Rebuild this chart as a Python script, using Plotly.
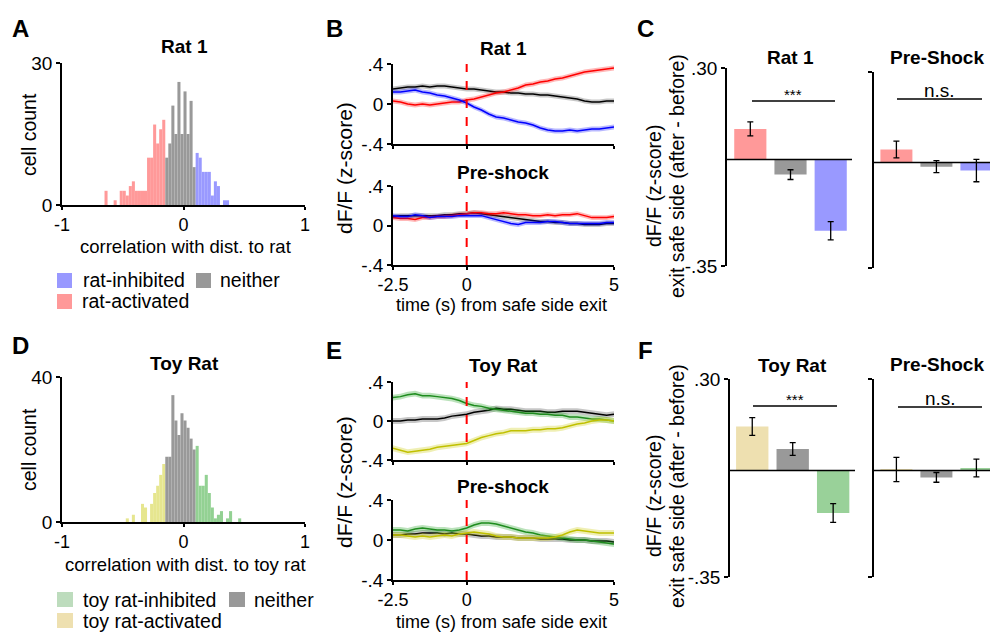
import plotly.graph_objects as go

W, H = 990, 633
def px(x): return x / W
def py(y): return 1 - y / H

FONT = "Liberation Sans, Arial, sans-serif"

# ---------------- DATA ----------------
BIN_W = 0.025
# Panel A: Rat 1 histogram (counts per bin, bins of width BIN_W starting at *_start)
A_act_start = -0.65
A_act_counts = [3, 0, 0, 1, 0, 3, 3, 2, 4, 5, 3, 3, 3, 3, 10, 10, 17, 13, 16, 18]
A_nei_start = -0.15
A_nei_counts = [10, 13, 21, 15, 26, 15, 24, 15, 22, 8]
A_inh_start = 0.10
A_inh_counts = [11, 10, 7, 7, 7, 2, 5, 4, 0, 1, 1]

# Panel D: Toy rat histogram
D_act_start = -0.475
D_act_counts = [1, 0, 2, 0, 0, 5, 4, 0, 5, 8, 10, 13, 16]
D_nei_start = -0.15
D_nei_counts = [18, 18, 35, 28, 24, 30, 28, 26, 23, 20]
D_inh_start = 0.10
D_inh_counts = [21, 10, 10, 13, 8, 4, 1, 2, 3, 0, 1, 3, 0, 0, 1]

# Panels B / E: time (s) from safe side exit
time_s = [-2.5, -2.25, -2.0, -1.75, -1.5, -1.25, -1.0, -0.75, -0.5, -0.25, 0.0,
          0.25, 0.5, 0.75, 1.0, 1.25, 1.5, 1.75, 2.0, 2.25, 2.5, 2.75, 3.0,
          3.25, 3.5, 3.75, 4.0, 4.25, 4.5, 4.75, 5.0]

B_rat_neither = [0.15, 0.16, 0.17, 0.17, 0.18, 0.17, 0.18, 0.18, 0.17, 0.16, 0.15,
                 0.15, 0.14, 0.13, 0.12, 0.12, 0.11, 0.11, 0.10, 0.10, 0.09, 0.09,
                 0.08, 0.07, 0.06, 0.05, 0.03, 0.02, 0.02, 0.03, 0.03]
B_rat_activated = [0.03, 0.02, 0.00, -0.01, 0.00, -0.01, 0.00, 0.01, 0.02, 0.02, 0.04,
                   0.05, 0.07, 0.09, 0.11, 0.12, 0.14, 0.16, 0.19, 0.20, 0.22, 0.23,
                   0.25, 0.26, 0.28, 0.30, 0.32, 0.33, 0.34, 0.35, 0.36]
B_rat_inhibited = [0.12, 0.12, 0.13, 0.14, 0.12, 0.11, 0.09, 0.08, 0.06, 0.04, 0.01,
                   -0.03, -0.06, -0.10, -0.13, -0.14, -0.16, -0.18, -0.19, -0.21, -0.24,
                   -0.26, -0.27, -0.27, -0.26, -0.27, -0.26, -0.25, -0.25, -0.24, -0.23]
B_pre_neither = [0.09, 0.10, 0.10, 0.10, 0.10, 0.10, 0.10, 0.11, 0.11, 0.12, 0.12,
                 0.13, 0.12, 0.11, 0.10, 0.09, 0.08, 0.07, 0.06, 0.05, 0.04, 0.04,
                 0.03, 0.03, 0.02, 0.02, 0.01, 0.01, 0.01, 0.02, 0.02]
B_pre_activated = [0.08, 0.07, 0.07, 0.06, 0.08, 0.08, 0.09, 0.09, 0.10, 0.11, 0.12,
                   0.13, 0.13, 0.12, 0.12, 0.13, 0.12, 0.11, 0.11, 0.10, 0.10, 0.11,
                   0.10, 0.11, 0.11, 0.12, 0.10, 0.08, 0.08, 0.08, 0.09]
B_pre_inhibited = [0.10, 0.09, 0.09, 0.11, 0.10, 0.08, 0.09, 0.09, 0.09, 0.10, 0.10,
                   0.10, 0.10, 0.08, 0.06, 0.04, 0.02, 0.01, 0.03, 0.03, 0.03, 0.04,
                   0.04, 0.03, 0.02, 0.02, 0.02, 0.02, 0.02, 0.03, 0.03]
B_sem = 0.025

E_toy_inhibited = [0.24, 0.25, 0.27, 0.28, 0.26, 0.26, 0.25, 0.24, 0.23, 0.21, 0.18,
                   0.16, 0.15, 0.13, 0.12, 0.11, 0.10, 0.09, 0.08, 0.08, 0.07, 0.07,
                   0.06, 0.06, 0.04, 0.04, 0.03, 0.02, 0.02, 0.01, 0.00]
E_toy_neither = [0.00, 0.00, 0.01, 0.01, 0.02, 0.02, 0.02, 0.03, 0.05, 0.06, 0.07,
                 0.09, 0.10, 0.11, 0.13, 0.12, 0.12, 0.11, 0.10, 0.10, 0.10, 0.09,
                 0.09, 0.10, 0.10, 0.10, 0.09, 0.08, 0.07, 0.06, 0.07]
E_toy_activated = [-0.28, -0.30, -0.32, -0.31, -0.30, -0.29, -0.27, -0.26, -0.25, -0.24, -0.23,
                   -0.20, -0.17, -0.15, -0.13, -0.12, -0.10, -0.10, -0.10, -0.09, -0.09,
                   -0.08, -0.08, -0.07, -0.05, -0.03, -0.02, 0.00, 0.01, 0.01, 0.00]
E_pre_inhibited = [0.10, 0.10, 0.09, 0.11, 0.12, 0.11, 0.10, 0.10, 0.09, 0.10, 0.12,
                   0.15, 0.17, 0.17, 0.16, 0.14, 0.12, 0.10, 0.08, 0.07, 0.05, 0.04,
                   0.03, 0.02, 0.01, 0.00, 0.00, -0.01, -0.02, -0.03, -0.04]
E_pre_neither = [0.05, 0.05, 0.06, 0.06, 0.07, 0.07, 0.07, 0.06, 0.07, 0.06, 0.06,
                 0.05, 0.04, 0.04, 0.03, 0.03, 0.03, 0.02, 0.02, 0.02, 0.01, 0.01,
                 0.01, 0.01, 0.00, 0.00, 0.00, -0.01, -0.01, -0.01, -0.02]
E_pre_activated = [0.05, 0.05, 0.04, 0.03, 0.04, 0.03, 0.04, 0.05, 0.04, 0.06, 0.07,
                   0.08, 0.07, 0.06, 0.04, 0.03, 0.03, 0.02, 0.02, 0.02, 0.02, 0.02,
                   0.03, 0.05, 0.08, 0.10, 0.09, 0.08, 0.07, 0.07, 0.07]
E_sem = 0.03

# Panels C / F: bars (activated, neither, inhibited)
bar_groups = [0, 1, 2]
C_rat_vals = [0.100, -0.050, -0.234]
C_rat_err = [0.023, 0.016, 0.030]
C_pre_vals = [0.043, -0.014, -0.027]
C_pre_err = [0.028, 0.020, 0.037]
F_toy_vals = [0.144, 0.070, -0.140]
F_toy_err = [0.029, 0.021, 0.031]
F_pre_vals = [0.003, -0.023, 0.008]
F_pre_err = [0.040, 0.016, 0.029]

# ---------------- STYLE ----------------
RED_H, GREY_H, BLUE_H = "#ff9999", "#999999", "#9999ff"
YEL_H, GRN_H = "#e6e68f", "#93d193"
YEL_BAR, GRN_BAR = "#eee0b0", "#99d199"
YEL_LEG, GRN_LEG = "#eee0b0", "#bddcbd"

TICK = 19
fig = go.Figure()
layout = {}
shapes = []
annots = []

base_axis = dict(showline=True, linecolor="black", linewidth=1.5, ticks="outside",
                 ticklen=4, tickwidth=1.5, tickcolor="black", showgrid=False,
                 zeroline=False, tickfont=dict(family=FONT, size=TICK, color="black"),
                 fixedrange=True, automargin=False)

def add_axes(idx, xd, yd, xrange, yrange, xticks=None, xtext=None, yticks=None, ytext=None,
             xlabels=True, ylabels=True, xvisible=True):
    s = "" if idx == 1 else str(idx)
    xa = dict(base_axis, domain=[px(xd[0]), px(xd[1])], range=xrange, anchor="y" + s)
    if xvisible:
        xa.update(tickvals=xticks, ticktext=xtext, showticklabels=xlabels, ticklen=3,
                  tickfont=dict(family=FONT, size=18, color="black"))
    else:
        xa.update(showline=False, ticks="", showticklabels=False)
    ya = dict(base_axis, domain=[py(yd[1]), py(yd[0])], range=yrange, anchor="x" + s,
              tickvals=yticks, ticktext=ytext, showticklabels=ylabels)
    layout["xaxis" + s] = xa
    layout["yaxis" + s] = ya
    return ("x" + s, "y" + s)

def hist(axes, start, counts, color):
    centers = [start + BIN_W * (i + 0.5) for i in range(len(counts))]
    fig.add_trace(go.Bar(x=centers, y=counts, width=BIN_W, marker=dict(color=color, line=dict(width=0)),
                         xaxis=axes[0], yaxis=axes[1], showlegend=False, hoverinfo="skip"))

def series(axes, mean, sem, line_color, band_color):
    up = [m + sem for m in mean]
    lo = [m - sem for m in mean]
    fig.add_trace(go.Scatter(x=time_s + time_s[::-1], y=up + lo[::-1], fill="toself",
                             fillcolor=band_color, line=dict(width=0), mode="lines",
                             xaxis=axes[0], yaxis=axes[1], showlegend=False, hoverinfo="skip"))
    fig.add_trace(go.Scatter(x=time_s, y=mean, mode="lines", line=dict(color=line_color, width=1.5),
                             xaxis=axes[0], yaxis=axes[1], showlegend=False, hoverinfo="skip"))

def bars(axes, vals, errs, colors, xr):
    fig.add_trace(go.Bar(x=bar_groups, y=vals, width=0.8, marker=dict(color=colors, line=dict(width=0)),
                         error_y=dict(type="data", array=errs, color="black", thickness=1.3, width=3),
                         xaxis=axes[0], yaxis=axes[1], showlegend=False, hoverinfo="skip"))
    shapes.append(dict(type="line", xref=axes[0], yref=axes[1], x0=xr[0], x1=xr[1], y0=0, y1=0,
                       line=dict(color="black", width=1.5)))

def text(x, y, s, size=18, bold=False, angle=0, xanchor="center"):
    if bold:
        s = "<b>" + s + "</b>"
    annots.append(dict(x=px(x), y=py(y), xref="paper", yref="paper", text=s, showarrow=False,
                       textangle=angle, xanchor=xanchor, yanchor="middle",
                       font=dict(family=FONT, size=size, color="black")))

def square(x0, y0, x1, y1, color):
    shapes.append(dict(type="rect", xref="paper", yref="paper", x0=px(x0), x1=px(x1),
                       y0=py(y1), y1=py(y0), fillcolor=color, line=dict(width=0)))

def hline(x0, x1, y):
    shapes.append(dict(type="line", xref="paper", yref="paper", x0=px(x0), x1=px(x1),
                       y0=py(y), y1=py(y), line=dict(color="black", width=1.5)))

# ---------- Panel A ----------
axA = add_axes(1, (62, 305), (63, 205), [-1, 1], [0, 30], [-1, 0, 1], ["-1", "0", "1"], [0, 30], ["0", "30"])
hist(axA, A_act_start, A_act_counts, RED_H)
hist(axA, A_nei_start, A_nei_counts, GREY_H)
hist(axA, A_inh_start, A_inh_counts, BLUE_H)

# ---------- Panel D ----------
axD = add_axes(6, (62, 305), (377, 522), [-1, 1], [0, 40], [-1, 0, 1], ["-1", "0", "1"], [0, 40], ["0", "40"])
hist(axD, D_act_start, D_act_counts, YEL_H)
hist(axD, D_nei_start, D_nei_counts, GREY_H)
hist(axD, D_inh_start, D_inh_counts, GRN_H)

# ---------- Panel B ----------
yt = [-0.4, 0, 0.4]; ytt = ["-.4", "0", ".4"]
xt = [-2.5, 0, 5]; xtt = ["-2.5", "0", "5"]
axB1 = add_axes(2, (393, 614), (64, 144), [-2.5, 5], [-0.4, 0.4], xt, xtt, yt, ytt, xlabels=False)
axB2 = add_axes(3, (393, 614), (186, 265), [-2.5, 5], [-0.4, 0.4], xt, xtt, yt, ytt)
series(axB1, B_rat_neither, B_sem, "black", "rgba(0,0,0,0.22)")
series(axB1, B_rat_activated, B_sem, "#ff0000", "rgba(255,0,0,0.28)")
series(axB1, B_rat_inhibited, B_sem, "#0000ff", "rgba(0,0,255,0.28)")
series(axB2, B_pre_neither, B_sem, "black", "rgba(0,0,0,0.22)")
series(axB2, B_pre_activated, B_sem, "#ff0000", "rgba(255,0,0,0.28)")
series(axB2, B_pre_inhibited, B_sem, "#0000ff", "rgba(0,0,255,0.28)")

# ---------- Panel E ----------
axE1 = add_axes(7, (393, 614), (382, 460), [-2.5, 5], [-0.4, 0.4], xt, xtt, yt, ytt, xlabels=False)
axE2 = add_axes(8, (393, 614), (500, 580), [-2.5, 5], [-0.4, 0.4], xt, xtt, yt, ytt)
series(axE1, E_toy_neither, E_sem, "black", "rgba(0,0,0,0.22)")
series(axE1, E_toy_inhibited, E_sem, "#1e8c1e", "rgba(30,160,30,0.3)")
series(axE1, E_toy_activated, E_sem, "#c0c000", "rgba(210,210,40,0.35)")
series(axE2, E_pre_neither, E_sem, "black", "rgba(0,0,0,0.22)")
series(axE2, E_pre_inhibited, E_sem, "#1e8c1e", "rgba(30,160,30,0.3)")
series(axE2, E_pre_activated, E_sem, "#c0c000", "rgba(210,210,40,0.35)")

for ax in (axB1, axB2, axE1, axE2):
    shapes.append(dict(type="line", xref=ax[0], yref=ax[1], x0=0, x1=0, y0=-0.4, y1=0.4,
                       line=dict(color="#ff0000", width=2, dash="dash")))

# ---------- Panel C ----------
byt = [-0.35, 0.30]; bytt = ["-.35", ".30"]
xrC1 = [-0.58, 2.53]
xrC2 = [-0.56, 2.34]
axC1 = add_axes(4, (727, 852), (68, 266), xrC1, [-0.35, 0.30], yticks=byt, ytext=bytt, xvisible=False)
axC2 = add_axes(5, (874, 990), (72, 268), xrC2, [-0.35, 0.30], yticks=byt, ytext=bytt, xvisible=False, ylabels=False)
bars(axC1, C_rat_vals, C_rat_err, [RED_H, GREY_H, BLUE_H], xrC1)
bars(axC2, C_pre_vals, C_pre_err, [RED_H, GREY_H, BLUE_H], xrC2)

# ---------- Panel F ----------
xrF1 = [-0.55, 2.54]
axF1 = add_axes(9, (730, 855), (379, 577), xrF1, [-0.35, 0.30], yticks=byt, ytext=bytt, xvisible=False)
axF2 = add_axes(10, (874, 990), (379, 577), xrC2, [-0.35, 0.30], yticks=byt, ytext=bytt, xvisible=False, ylabels=False)
bars(axF1, F_toy_vals, F_toy_err, [YEL_BAR, GREY_H, GRN_BAR], xrF1)
bars(axF2, F_pre_vals, F_pre_err, [YEL_BAR, GREY_H, GRN_BAR], xrC2)

# significance lines
hline(752, 835, 101); text(793, 94, "***", size=15)
hline(897, 982, 99); text(939, 90, "n.s.", size=19)
hline(753, 837, 406); text(795, 399, "***", size=15)
hline(898, 982, 407); text(940, 398, "n.s.", size=19)

# ---------- Text ----------
for lbl, x, y in [("A", 20, 28), ("B", 334, 28), ("C", 645, 28), ("D", 20, 345), ("E", 334, 350), ("F", 645, 350)]:
    text(x, y, lbl, size=24, bold=True)

TT = 19
text(184, 46, "Rat 1", size=TT, bold=True)
text(184, 363, "Toy Rat", size=TT, bold=True)
text(503, 48, "Rat 1", size=TT, bold=True)
text(503, 172, "Pre-shock", size=TT, bold=True)
text(503, 365, "Toy Rat", size=TT, bold=True)
text(503, 486, "Pre-shock", size=TT, bold=True)
text(790, 58, "Rat 1", size=TT, bold=True)
text(937, 58, "Pre-Shock", size=TT, bold=True)
text(792, 365, "Toy Rat", size=TT, bold=True)
text(937, 364, "Pre-Shock", size=TT, bold=True)

text(29, 135, "cell count", size=19.5, angle=-90)
text(29, 450, "cell count", size=19.5, angle=-90)
text(185, 246, "correlation with dist. to rat", size=18.5)
text(185, 564, "correlation with dist. to toy rat", size=18.5)

text(344, 168, "dF/F (z-score)", size=21, angle=-90)
text(344, 482, "dF/F (z-score)", size=21, angle=-90)
text(501, 305, "time (s) from safe side exit", size=18)
text(501, 622, "time (s) from safe side exit", size=18)

text(654, 186, "dF/F (z-score)", size=19.5, angle=-90)
text(677, 176, "exit safe side (after - before)", size=19.5, angle=-90)
text(654, 496, "dF/F (z-score)", size=19.5, angle=-90)
text(677, 486, "exit safe side (after - before)", size=19.5, angle=-90)

# legends
LG = 19.5
square(57, 273, 72, 288, BLUE_H); text(81, 280, "rat-inhibited", size=LG, xanchor="left")
square(196, 273, 211, 288, GREY_H); text(218, 280, "neither", size=LG, xanchor="left")
square(57, 294, 72, 309, RED_H); text(80, 301, "rat-activated", size=LG, xanchor="left")
square(57, 592, 73, 607, GRN_LEG); text(81, 600, "toy rat-inhibited", size=LG, xanchor="left")
square(229, 592, 245, 607, GREY_H); text(252, 600, "neither", size=LG, xanchor="left")
square(57, 613, 73, 628, YEL_LEG); text(81, 621, "toy rat-activated", size=LG, xanchor="left")

fig.update_layout(width=W, height=H, margin=dict(l=0, r=0, t=0, b=0, pad=0, autoexpand=False),
                  paper_bgcolor="white", plot_bgcolor="white", barmode="overlay",
                  showlegend=False, shapes=shapes, annotations=annots,
                  font=dict(family=FONT, color="black"), **layout)
fig.write_html("out.html", config={"displayModeBar": False},
               post_script="document.body.style.margin='0';document.body.style.padding='0';document.body.style.overflow='hidden';")
